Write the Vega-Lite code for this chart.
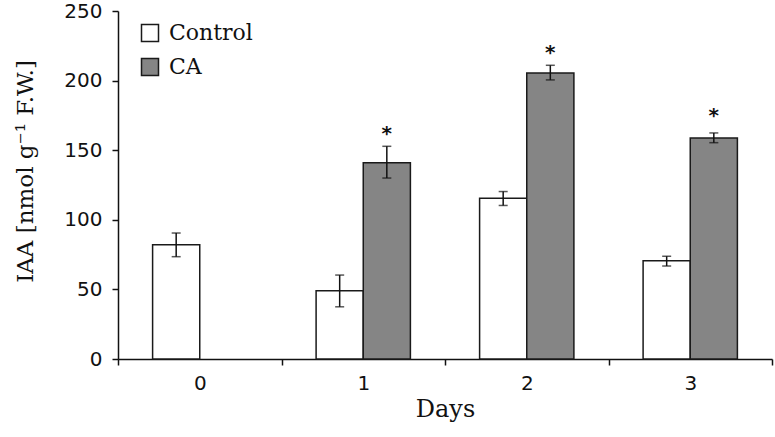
{
  "$schema": "https://vega.github.io/schema/vega-lite/v6.json",
  "width": 654,
  "height": 348,
  "autosize": {"type": "none"},
  "padding": {"left": 118, "top": 11, "right": 3, "bottom": 78},
  "background": "white",
  "config": {
    "view": {"stroke": null},
    "axis": {"domainColor": "#111", "tickColor": "#111", "domainWidth": 1.5, "tickWidth": 1.5, "grid": false, "labelColor": "#111", "titleColor": "#111"}
  },
  "data": {
    "values": [
      {"day": "0", "group": "Control", "value": 82, "lo": 73.5, "hi": 90.5, "star": null},
      {"day": "1", "group": "Control", "value": 49, "lo": 37.5, "hi": 60.3, "star": null},
      {"day": "1", "group": "CA", "value": 141, "lo": 130, "hi": 152.8, "star": 157},
      {"day": "2", "group": "Control", "value": 115.5, "lo": 110.3, "hi": 120.3, "star": 215.5},
      {"day": "2", "group": "CA", "value": 205.5, "lo": 200.5, "hi": 211, "star": 215.5},
      {"day": "3", "group": "Control", "value": 70.5, "lo": 66.8, "hi": 73.8, "star": null},
      {"day": "3", "group": "CA", "value": 158.8, "lo": 155.4, "hi": 162.4, "star": 170.5}
    ]
  },
  "encoding": {
    "x": {
      "field": "day", "type": "nominal", "sort": ["0", "1", "2", "3"],
      "scale": {"paddingInner": 0, "paddingOuter": 0},
      "axis": {
        "title": "Days", "labelAngle": 0, "tickBand": "extent", "tickSize": 6,
        "labelFont": "DejaVu Sans", "labelFontSize": 20, "labelPadding": 8,
        "titleFont": "DejaVu Serif", "titleFontSize": 24, "titleFontWeight": "normal", "titlePadding": 4
      }
    },
    "xOffset": {"field": "group", "type": "nominal", "scale": {"domain": ["Control", "CA"], "paddingInner": 0, "paddingOuter": 0.734}}
  },
  "layer": [
    {
      "mark": {"type": "bar", "stroke": "#1a1a1a", "strokeWidth": 1.5},
      "encoding": {
        "y": {
          "field": "value", "type": "quantitative",
          "scale": {"domain": [0, 250], "nice": false},
          "axis": {
            "values": [0, 50, 100, 150, 200, 250], "tickSize": 6,
            "labelFont": "DejaVu Sans", "labelFontSize": 20, "labelPadding": 10,
            "title": "IAA [nmol g⁻¹ F.W.]", "titleFont": "DejaVu Serif", "titleFontSize": 23, "titleFontWeight": "normal",
            "titleX": -81, "titleY": 160
          }
        },
        "fill": {
          "field": "group", "type": "nominal",
          "scale": {"domain": ["Control", "CA"], "range": ["#ffffff", "#858585"]},
          "legend": {
            "title": null, "orient": "none", "legendX": 21, "legendY": 11,
            "symbolType": "square", "symbolSize": 289, "symbolStrokeColor": "#1a1a1a", "symbolStrokeWidth": 1.5,
            "labelFont": "DejaVu Serif", "labelFontSize": 22, "labelColor": "#111", "labelOffset": 8, "rowPadding": 10
          }
        }
      }
    },
    {
      "mark": {"type": "rule", "stroke": "#111", "strokeWidth": 1.5},
      "encoding": {"y": {"field": "lo", "type": "quantitative"}, "y2": {"field": "hi"}}
    },
    {
      "mark": {"type": "tick", "orient": "horizontal", "size": 9, "thickness": 1.5, "color": "#111"},
      "encoding": {"y": {"field": "lo", "type": "quantitative"}}
    },
    {
      "mark": {"type": "tick", "orient": "horizontal", "size": 9, "thickness": 1.5, "color": "#111"},
      "encoding": {"y": {"field": "hi", "type": "quantitative"}}
    },
    {
      "transform": [{"filter": "datum.star != null && datum.group == 'CA'"}],
      "mark": {"type": "text", "text": "*", "font": "DejaVu Sans", "fontSize": 20, "fontWeight": "bold", "baseline": "alphabetic", "color": "#111"},
      "encoding": {"y": {"field": "star", "type": "quantitative"}}
    }
  ]
}
